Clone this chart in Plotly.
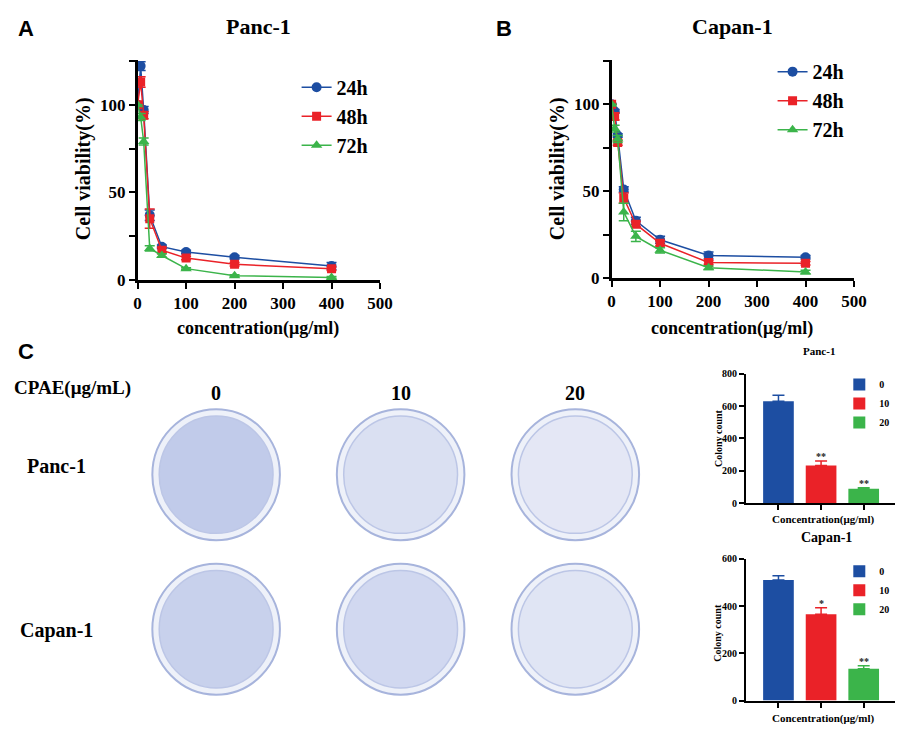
import plotly.graph_objects as go

W, H = 913, 729
SERIF = 'Liberation Serif'
SANS = 'Liberation Sans'

# cell viability (CCK-8), concentration in ug/ml
conc = [0, 6.25, 12.5, 25, 50, 100, 200, 400]
times = ['24h', '48h', '72h']

panc_24 = [100, 122, 97, 37, 19, 16, 13, 8]
panc_48 = [100, 113, 94, 35, 17, 12.5, 9, 6.5]
panc_72 = [100, 93, 79, 18, 14, 6.5, 2.5, 1.5]
panc_24_err = [0, 2.5, 2, 3, 1, 1, 1, 2]
panc_48_err = [0, 3, 2, 5.5, 1.5, 1, 1, 1]
panc_72_err = [0, 2, 2, 1.5, 1, 0.5, 0.5, 0.5]

capan_24 = [100, 96, 82, 51, 33, 22, 13, 12]
capan_48 = [100, 93, 78, 46, 31, 20, 9, 8.5]
capan_72 = [100, 86, 80, 38, 24, 16, 6, 3.5]
capan_24_err = [0, 1, 1, 1.5, 2, 2, 2, 1]
capan_48_err = [0, 2, 1.5, 3, 1.5, 1.5, 1, 1]
capan_72_err = [0, 2, 2, 5, 3, 1.5, 1, 1]

# colony formation
cpae_doses = ['0', '10', '20']
colony_panc = [630, 233, 88]
colony_panc_err = [38, 28, 6]
colony_panc_sig = ['', '**', '**']
colony_capan = [510, 365, 135]
colony_capan_err = [18, 28, 12]
colony_capan_sig = ['', '*', '**']

BLUE = '#1d4ea2'
RED = '#ea2228'
GREEN = '#3bb44a'
colors = [BLUE, RED, GREEN]
symbols = ['circle', 'square', 'triangle-up']
msizes = [10, 9, 10]


def px(x):
    return x / W


def py(y):
    return 1 - y / H


fig = go.Figure()

viab = [
    ('x', 'y', 'legend', [panc_24, panc_48, panc_72], [panc_24_err, panc_48_err, panc_72_err]),
    ('x2', 'y2', 'legend2', [capan_24, capan_48, capan_72], [capan_24_err, capan_48_err, capan_72_err]),
]
for xa, ya, leg, series, errs in viab:
    for i, t in enumerate(times):
        fig.add_trace(go.Scatter(
            x=conc, y=series[i], name=t, xaxis=xa, yaxis=ya, legend=leg,
            mode='lines+markers',
            line=dict(color=colors[i], width=1.5),
            marker=dict(symbol=symbols[i], size=msizes[i], color=colors[i]),
            error_y=dict(type='data', array=errs[i], color=colors[i], thickness=1.5, width=5),
        ))

bars = [
    ('x3', 'y3', 'legend3', colony_panc, colony_panc_err, colony_panc_sig),
    ('x4', 'y4', 'legend4', colony_capan, colony_capan_err, colony_capan_sig),
]
for xa, ya, leg, vals, errs, sig in bars:
    for i, d in enumerate(cpae_doses):
        fig.add_trace(go.Bar(
            x=[d], y=[vals[i]], name=d, xaxis=xa, yaxis=ya, legend=leg,
            width=0.72, marker=dict(color=colors[i], line=dict(width=0)),
            error_y=dict(type='data', array=[errs[i]], arrayminus=[0],
                         color=colors[i], thickness=1.5, width=6),
        ))
        if sig[i]:
            # category axis: place by index so '10'/'20' are not read as numbers
            fig.add_annotation(x=i, y=vals[i] + errs[i], xref=xa, yref=ya,
                               text=sig[i], showarrow=False, yanchor='bottom', yshift=-3,
                               font=dict(family=SERIF, size=10, color='#222', weight='bold'))

line_axis = dict(showline=True, linecolor='black', linewidth=2.5, ticks='outside',
                 ticklen=6, tickwidth=2, tickcolor='black', showgrid=False, zeroline=False,
                 tickfont=dict(family=SERIF, size=17, color='black', weight='bold'))
yticks = dict(tickvals=[0, 25, 50, 75, 100, 125], ticktext=['0', '', '50', '', '100', ''])

bar_axis = dict(showline=True, linecolor='black', linewidth=2, ticks='outside',
                ticklen=5, tickwidth=1.5, tickcolor='black', showgrid=False, zeroline=False,
                tickfont=dict(family=SERIF, size=10, color='black', weight='bold'))

fig.update_layout(
    width=W, height=H,
    margin=dict(l=0, r=0, t=0, b=0),
    paper_bgcolor='white', plot_bgcolor='white',
    font=dict(family=SERIF, color='black'),
    barmode='overlay',
    xaxis=dict(domain=[px(128), px(375)], range=[0, 500], anchor='y',
               tickvals=[0, 100, 200, 300, 400, 500], **line_axis),
    yaxis=dict(domain=[py(272), py(47)], range=[0, 125.5], anchor='x', **yticks, **line_axis),
    xaxis2=dict(domain=[px(611), px(858)], range=[0, 500], anchor='y2',
                tickvals=[0, 100, 200, 300, 400, 500], **line_axis),
    yaxis2=dict(domain=[py(270), py(47)], range=[0, 125.5], anchor='x2', **yticks, **line_axis),
    xaxis3=dict(domain=[px(748), px(900)], range=[-0.76, 2.74], anchor='y3',
                showticklabels=False, **bar_axis),
    yaxis3=dict(domain=[py(500), py(368)], range=[0, 800], anchor='x3',
                tickvals=[0, 200, 400, 600, 800], **bar_axis),
    xaxis4=dict(domain=[px(748), px(900)], range=[-0.76, 2.74], anchor='y4',
                showticklabels=False, **bar_axis),
    yaxis4=dict(domain=[py(702), py(557)], range=[0, 600], anchor='x4',
                tickvals=[0, 200, 400, 600], **bar_axis),
    legend=dict(x=px(290), y=py(55), yanchor='top', bgcolor='rgba(0,0,0,0)',
                font=dict(family=SERIF, size=20, color='black', weight='bold')),
    legend2=dict(x=px(775), y=py(39), yanchor='top', bgcolor='rgba(0,0,0,0)',
                 font=dict(family=SERIF, size=20, color='black', weight='bold')),
    legend3=dict(x=px(843), y=py(364), yanchor='top', bgcolor='rgba(0,0,0,0)',
                 font=dict(family=SERIF, size=10, color='black', weight='bold')),
    legend4=dict(x=px(843), y=py(555), yanchor='top', bgcolor='rgba(0,0,0,0)',
                 font=dict(family=SERIF, size=10, color='black', weight='bold')),
    showlegend=True,
)


def label(text, x, y, size, family=SERIF, angle=0, xanchor='center'):
    fig.add_annotation(text=text, x=px(x), y=py(y), xref='paper', yref='paper',
                       showarrow=False, textangle=angle, xanchor=xanchor, yanchor='middle',
                       font=dict(family=family, size=size, color='black', weight='bold'))


# panel letters and titles
label('A', 4, 15, 22, SANS, xanchor='left')
label('B', 491, 15, 22, SANS, xanchor='left')
label('C', 4, 345, 22, SANS, xanchor='left')
label('Panc-1', 251, 13, 22)
label('Capan-1', 734, 13, 22)
label('Cell viability(%)', 73, 158, 20, angle=-90)
label('Cell viability(%)', 556, 158, 20, angle=-90)
label('concentration(μg/ml)', 251, 322, 18)
label('concentration(μg/ml)', 734, 322, 18)

# bar chart titles
label('Panc-1', 822, 345, 11)
label('Capan-1', 830, 535, 14)
label('Colony count', 720, 434, 10, angle=-90)
label('Colony count', 718, 633, 10, angle=-90)
label('Concentration(μg/ml)', 827, 517, 11)
label('Concentration(μg/ml)', 827, 720, 11)

# colony plate panel
label('CPAE(μg/mL)', 0, 382, 19, xanchor='left')
for d, cx in zip(cpae_doses, [208, 396, 574]):
    label(d, cx, 387, 20)
label('Panc-1', 45, 462, 20)
label('Capan-1', 45, 630, 20)

# plates drawn as dishes; stain density follows the colony counts
dish_cx = [208, 396, 574]
dish_cy = [471, 629]
rx, ry = 65, 67
cmax = max(colony_panc)
for row, counts in zip(dish_cy, [colony_panc, colony_capan]):
    for cx, n in zip(dish_cx, counts):
        a = 0.03 + 0.22 * n / cmax
        fig.add_shape(type='circle', xref='paper', yref='paper',
                      x0=px(cx - rx), x1=px(cx + rx), y0=py(row + ry), y1=py(row - ry),
                      line=dict(color='#a7b4dc', width=2),
                      fillcolor='#eef1f9')
        fig.add_shape(type='circle', xref='paper', yref='paper',
                      x0=px(cx - rx + 7), x1=px(cx + rx - 7), y0=py(row + ry - 7), y1=py(row - ry + 7),
                      line=dict(color='#bcc6e6', width=1.5),
                      fillcolor=f'rgba(60,90,190,{a:.2f})')

fig.write_html('out.html')
